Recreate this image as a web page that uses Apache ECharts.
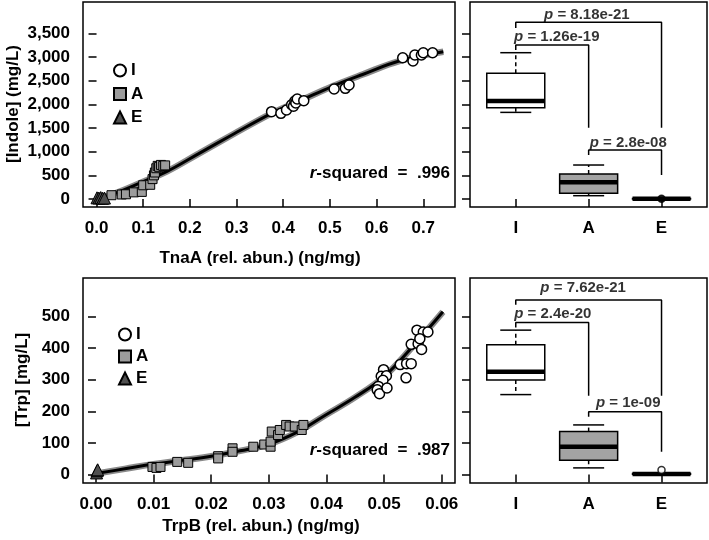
<!DOCTYPE html>
<html>
<head>
<meta charset="utf-8">
<script src="https://cdn.jsdelivr.net/npm/echarts@6/dist/echarts.min.js"></script>
<style>html,body{margin:0;padding:0;background:#fff}#c{width:709px;height:540px}</style>
</head>
<body>
<div id="c"></div>
<script>
// ---------- data ----------
const xTicksTop = [0, 0.1, 0.2, 0.3, 0.4, 0.5, 0.6, 0.7];
const yTicksTop = [0, 500, 1000, 1500, 2000, 2500, 3000, 3500];
const xTicksBot = [0, 0.01, 0.02, 0.03, 0.04, 0.05, 0.06];
const yTicksBot = [0, 100, 200, 300, 400, 500];
const boxCats = ['I', 'A', 'E'];
const boxPos = [1, 2, 3];

const topIX = [0.375, 0.395, 0.407, 0.418, 0.422, 0.425, 0.427, 0.43, 0.444, 0.509, 0.533, 0.541, 0.656, 0.678, 0.682, 0.696, 0.70, 0.72];
const topIY = [1845, 1810, 1880, 1990, 1960, 2070, 2030, 2113, 2077, 2324, 2338, 2408, 2985, 2915, 3042, 3042, 3091, 3091];
const topAX = [0.032, 0.054, 0.063, 0.080, 0.097, 0.100, 0.115, 0.120, 0.123, 0.125, 0.128, 0.131, 0.134, 0.138, 0.143, 0.147];
const topAY = [80, 95, 100, 140, 150, 290, 300, 420, 500, 560, 650, 700, 680, 720, 700, 710];
const topEX = [0.001, 0.005, 0.009, 0.013, 0.017];
const topEY = [25, 20, 30, 15, 20];
const curveTopX = [0, 0.04, 0.1, 0.15, 0.22, 0.29, 0.375, 0.436, 0.507, 0.57, 0.65, 0.743];
const curveTopY = [0, 120, 366, 577, 965, 1352, 1810, 2075, 2387, 2630, 2920, 3110];

const botIX = [0.0557, 0.0568, 0.0576, 0.0547, 0.0559, 0.0562, 0.0565, 0.0528, 0.0539, 0.0547, 0.0499, 0.0495, 0.0504, 0.0498, 0.0490, 0.0488, 0.0492, 0.0505, 0.0538];
const botIY = [457, 451, 451, 412, 414, 430, 396, 348, 351, 351, 332, 311, 313, 298, 279, 268, 256, 274, 306];
const botAX = [0.0098, 0.0105, 0.0112, 0.0141, 0.016, 0.0212, 0.0212, 0.0237, 0.0237, 0.0273, 0.0292, 0.0303, 0.0303, 0.0305, 0.0316, 0.0319, 0.033, 0.0336, 0.0345, 0.0357, 0.036];
const botAY = [24, 21, 24, 40, 37, 58, 51, 83, 72, 88, 95, 88, 104, 136, 125, 141, 157, 152, 152, 141, 157];
const botEX = [0.0001, 0.0002, 0.0003];
const botEY = [5, 12, 15];
const curveBotX = [0, 0.005, 0.01, 0.015, 0.02, 0.025, 0.03, 0.035, 0.04, 0.045, 0.05, 0.055, 0.0602];
const curveBotY = [3, 18, 33, 45, 58, 75, 96, 135, 190, 245, 310, 406, 515];

// box stats: [min, Q1, median, Q3, max] for I, A, E
const boxTopStats = [[1830, 1930, 2070, 2655, 3091], [70, 120, 352, 528, 718], [0, 2, 5, 8, 12]];
const boxBotStats = [[253, 299, 325, 411, 457], [21, 45, 88, 136, 157], [0, 1, 2, 3, 4]];
const outTopY = [5];
const outBotY = [14];

const bracketX = [[1, 1, 3, 3], [1, 1, 2, 2], [2, 2, 3, 3]];
const bracketTopY = [[3613, 3733, 3733, 1506], [3148, 3254, 3254, 1506], [930, 1035, 1035, 507]];
const bracketBotY = [[537, 552, 552, 249], [465, 481, 481, 249], [183, 199, 199, 72]];
const pTopText = ['8.18e-21', '1.26e-19', '2.8e-08'];
const pTopX = [1.975, 1.563, 2.543];
const pTopY = [3888, 3416, 1190];
const pBotText = ['7.62e-21', '2.4e-20', '1e-09'];
const pBotX = [1.924, 1.508, 2.543];
const pBotY = [590, 507, 226];
const rsqTop = '.996';
const rsqBot = '.987';

// ---------- helpers ----------
const FONT = 'Liberation Sans, Arial, Helvetica, sans-serif';
const zip = (a, b) => a.map((v, i) => [v, b[i]]);
const fillBox = ['#ffffff', '#a3a3a3', '#ffffff'];

function valueAxis(gi, min, max, ticks, fmt, showLabel) {
  return {
    type: 'value', gridIndex: gi, min: min, max: max,
    axisLine: { show: false },
    splitLine: { show: false },
    axisTick: { show: true, length: 8, inside: false, customValues: ticks, lineStyle: { color: '#000', width: 1.5 } },
    axisLabel: { show: showLabel, customValues: ticks, formatter: fmt, margin: 13, color: '#000',
      fontFamily: FONT, fontWeight: 'bold', fontSize: 17 }
  };
}

function renderBox(params, api) {
  const x = api.value(0);
  const pMin = api.coord([x, api.value(1)]);
  const pQ1 = api.coord([x, api.value(2)]);
  const pMed = api.coord([x, api.value(3)]);
  const pQ3 = api.coord([x, api.value(4)]);
  const pMax = api.coord([x, api.value(5)]);
  const cx = pMed[0], hw = 29, cw = 15.5;
  const ln = { stroke: '#000', lineWidth: 1.5 };
  return {
    type: 'group', children: [
      { type: 'line', shape: { x1: cx, y1: pQ3[1], x2: cx, y2: pMax[1] }, style: { stroke: '#000', lineWidth: 1.5, lineDash: [4, 3] } },
      { type: 'line', shape: { x1: cx, y1: pQ1[1], x2: cx, y2: pMin[1] }, style: { stroke: '#000', lineWidth: 1.5, lineDash: [4, 3] } },
      { type: 'line', shape: { x1: cx - cw, y1: pMax[1], x2: cx + cw, y2: pMax[1] }, style: ln },
      { type: 'line', shape: { x1: cx - cw, y1: pMin[1], x2: cx + cw, y2: pMin[1] }, style: ln },
      { type: 'rect', shape: { x: cx - hw, y: pQ3[1], width: 2 * hw, height: pQ1[1] - pQ3[1] }, style: { fill: fillBox[params.dataIndex], stroke: '#000', lineWidth: 1.5 } },
      { type: 'line', shape: { x1: cx - hw, y1: pMed[1], x2: cx + hw, y2: pMed[1] }, style: { stroke: '#000', lineWidth: 4.5 } }
    ]
  };
}

function scatterSet(xi, yi, ix, iy, ax, ay, ex, ey) {
  return [
    { name: 'I', type: 'scatter', xAxisIndex: xi, yAxisIndex: yi, data: zip(ix, iy), symbol: 'circle', symbolSize: 10, z: 5,
      itemStyle: { color: '#ffffff', borderColor: '#000', borderWidth: 1.5, opacity: 1 } },
    { name: 'A', type: 'scatter', xAxisIndex: xi, yAxisIndex: yi, data: zip(ax, ay), symbol: 'rect', symbolSize: 9, z: 4,
      itemStyle: { color: '#9c9c9c', borderColor: '#000', borderWidth: 1, opacity: 1 } },
    { name: 'E', type: 'scatter', xAxisIndex: xi, yAxisIndex: yi, data: zip(ex, ey), symbol: 'triangle', symbolSize: 12, z: 4,
      itemStyle: { color: '#505050', borderColor: '#000', borderWidth: 1, opacity: 1 } }
  ];
}

function curveSet(xi, yi, cx, cy) {
  return [
    { type: 'line', xAxisIndex: xi, yAxisIndex: yi, data: zip(cx, cy), smooth: 0.4, symbol: 'none', z: 2, silent: true,
      lineStyle: { color: '#8a8a8a', width: 6.5 } },
    { type: 'line', xAxisIndex: xi, yAxisIndex: yi, data: zip(cx, cy), smooth: 0.4, symbol: 'none', z: 3, silent: true,
      lineStyle: { color: '#000', width: 3 } }
  ];
}

function bracketSet(xi, yi, ys, pt, px, py) {
  const s = ys.map((yy, k) => ({
    type: 'line', xAxisIndex: xi, yAxisIndex: yi, data: zip(bracketX[k], yy), symbol: 'none', silent: true, z: 3,
    lineStyle: { color: '#000', width: 1.5 }
  }));
  s.push({
    type: 'scatter', xAxisIndex: xi, yAxisIndex: yi, symbolSize: 1, silent: true, z: 6,
    itemStyle: { color: 'transparent' },
    data: pt.map((t, k) => ({ value: [px[k], py[k]], txt: t })),
    label: {
      show: true, position: 'inside',
      formatter: (p) => '{i|p}{n| = ' + pt[p.dataIndex] + '}',
      rich: {
        i: { fontFamily: FONT, fontWeight: 'bold', fontStyle: 'italic', fontSize: 15, color: '#000' },
        n: { fontFamily: FONT, fontWeight: 'bold', fontSize: 15, color: '#000' }
      }
    }
  });
  return s;
}

function boxSet(xi, yi, stats, outY, outFill) {
  return [
    { type: 'custom', xAxisIndex: xi, yAxisIndex: yi, renderItem: renderBox, z: 4, silent: true,
      encode: { x: 0, y: [1, 2, 3, 4, 5] },
      data: stats.map((s, k) => [boxPos[k]].concat(s)) },
    { type: 'scatter', xAxisIndex: xi, yAxisIndex: yi, symbol: 'circle', symbolSize: 7, z: 5, silent: true,
      itemStyle: { color: outFill, borderColor: '#000', borderWidth: 1.5 },
      data: outY.map(v => [boxPos[2], v]) }
  ];
}

const comma = v => String(v).replace(/\B(?=(\d{3})+(?!\d))/g, ',');
const catFmt = v => boxCats[Math.round(v) - 1];
const gridBase = { show: true, borderColor: '#000', borderWidth: 1.5, backgroundColor: 'transparent', containLabel: false };

const txt = (t, x, y, extra) => Object.assign({
  type: 'text', x: x, y: y, silent: true,
  style: { text: t, fontFamily: FONT, fontWeight: 'bold', fontSize: 17, fill: '#000', align: 'center', verticalAlign: 'middle' }
}, extra || {});

const rsqText = (val, x, y) => ({
  type: 'text', x: x, y: y, silent: true,
  style: {
    text: '{i|r}{n|-squared  =  ' + val + '}', align: 'right', verticalAlign: 'middle',
    rich: {
      i: { fontFamily: FONT, fontWeight: 'bold', fontStyle: 'italic', fontSize: 17, fill: '#000' },
      n: { fontFamily: FONT, fontWeight: 'bold', fontSize: 17, fill: '#000' }
    }
  }
});

const legendBase = (left, top, gap) => ({
  orient: 'vertical', left: left, top: top, padding: 0, itemGap: gap, itemWidth: 12, itemHeight: 12,
  selectedMode: false, data: ['I', 'A', 'E'],
  textStyle: { fontFamily: FONT, fontWeight: 'bold', fontSize: 17, color: '#000', lineHeight: 17 }
});

const option = {
  animation: false,
  backgroundColor: '#fff',
  grid: [
    Object.assign({ left: 83, top: 2, width: 372, height: 205 }, gridBase),
    Object.assign({ left: 470, top: 2, width: 237, height: 205 }, gridBase),
    Object.assign({ left: 83, top: 278, width: 372, height: 205 }, gridBase),
    Object.assign({ left: 470, top: 278, width: 237, height: 205 }, gridBase)
  ],
  xAxis: [
    valueAxis(0, -0.029, 0.768, xTicksTop, v => v.toFixed(1), true),
    valueAxis(1, 0.372, 3.624, boxPos, catFmt, true),
    valueAxis(2, -0.00225, 0.0623, xTicksBot, v => v.toFixed(2), true),
    valueAxis(3, 0.372, 3.624, boxPos, catFmt, true)
  ],
  yAxis: [
    valueAxis(0, -169, 4162, yTicksTop, comma, true),
    valueAxis(1, -169, 4162, yTicksTop, comma, false),
    valueAxis(2, -26.8, 622, yTicksBot, v => String(v), true),
    valueAxis(3, -26.8, 622, yTicksBot, v => String(v), false)
  ],
  legend: [legendBase(113, 62, 6.5), legendBase(118, 326, 5)],
  graphic: [
    txt('[Indole] (mg/L)', 13, 104, { rotation: Math.PI / 2 }),
    txt('TnaA (rel. abun.) (ng/mg)', 260, 258),
    txt('[Trp] [mg/L]', 22, 380, { rotation: Math.PI / 2 }),
    txt('TrpB (rel. abun.) (ng/mg)', 261, 526),
    rsqText(rsqTop, 450, 173),
    rsqText(rsqBot, 450, 450)
  ],
  series: [].concat(
    curveSet(0, 0, curveTopX, curveTopY),
    scatterSet(0, 0, topIX, topIY, topAX, topAY, topEX, topEY),
    curveSet(2, 2, curveBotX, curveBotY),
    scatterSet(2, 2, botIX, botIY, botAX, botAY, botEX, botEY),
    boxSet(1, 1, boxTopStats, outTopY, '#000'),
    bracketSet(1, 1, bracketTopY, pTopText, pTopX, pTopY),
    boxSet(3, 3, boxBotStats, outBotY, '#fff'),
    bracketSet(3, 3, bracketBotY, pBotText, pBotX, pBotY)
  )
};

const chart = echarts.init(document.getElementById('c'), null, { renderer: 'canvas' });
chart.setOption(option);
</script>
</body>
</html>
